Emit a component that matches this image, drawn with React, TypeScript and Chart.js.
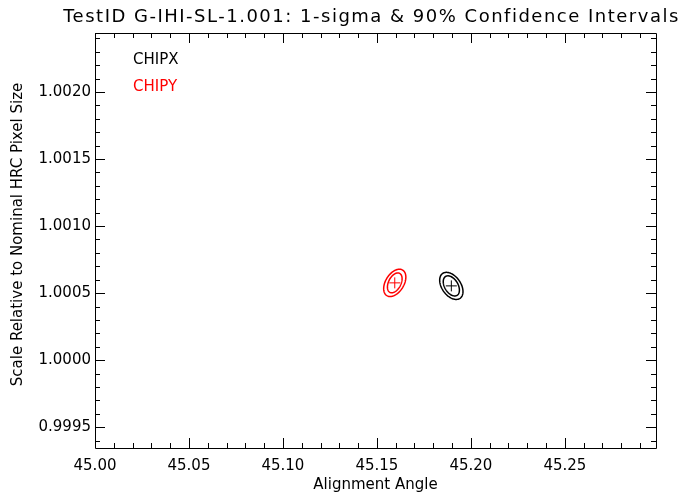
import React, { useEffect, useRef } from "react";
import { Chart, registerables } from "chart.js";

Chart.register(...registerables);

// ---- data ----
const seriesNames = ["CHIPX", "CHIPY"];
const seriesColors = ["#000000", "#ff0000"];
// best-fit centres
const centerX = [45.1896, 45.1595];
const centerY = [1.000554, 1.0005765];
// 90% confidence contour half-extents
const halfX90 = [0.0062, 0.0059];
const halfY90 = [0.000101, 0.000102];
// 1-sigma confidence contour half-extents
const halfX1s = [0.0043, 0.0039];
const halfY1s = [0.000075, 0.000074];
// correlation between angle and scale
const correlation = [-0.42, 0.42];

const xTicks = [45.0, 45.05, 45.1, 45.15, 45.2, 45.25];
const yTicks = [0.9995, 1.0, 1.0005, 1.001, 1.0015, 1.002];
const xRange = [45.0, 45.2985];
const yRange = [0.999345, 1.00244];
const xMinorStep = 0.01;
const yMinorStep = 0.0001;

const titleText = "TestID G-IHI-SL-1.001: 1-sigma & 90% Confidence Intervals";
const xTitle = "Alignment Angle";
const yTitle = "Scale Relative to Nominal HRC Pixel Size";

const FONT = "'DejaVu Sans', sans-serif";

const framePlugin = {
  id: "idlFrame",
  afterDatasetsDraw(chart: any) {
    const ctx = chart.ctx as CanvasRenderingContext2D;
    const xs = chart.scales.x;
    const ys = chart.scales.y;
    const { left, right, top, bottom } = chart.chartArea;

    ctx.save();
    ctx.beginPath();
    ctx.rect(left, top, right - left, bottom - top);
    ctx.clip();
    for (let s = 0; s < seriesNames.length; s++) {
      const levels = [
        [halfX90[s], halfY90[s]],
        [halfX1s[s], halfY1s[s]],
      ];
      const r = correlation[s];
      const q = Math.sqrt(1 - r * r);
      for (const [hx, hy] of levels) {
        ctx.beginPath();
        const N = 120;
        for (let i = 0; i <= N; i++) {
          const t = (i / N) * Math.PI * 2;
          const vx = centerX[s] + hx * Math.cos(t);
          const vy = centerY[s] + hy * (r * Math.cos(t) + q * Math.sin(t));
          const px = xs.getPixelForValue(vx);
          const py = ys.getPixelForValue(vy);
          if (i === 0) ctx.moveTo(px, py);
          else ctx.lineTo(px, py);
        }
        ctx.closePath();
        ctx.strokeStyle = seriesColors[s];
        ctx.lineWidth = 1.5;
        ctx.stroke();
      }
    }
    ctx.restore();
  },
  afterDraw(chart: any) {
    const ctx = chart.ctx as CanvasRenderingContext2D;
    const xs = chart.scales.x;
    const ys = chart.scales.y;
    const { left, right, top, bottom } = chart.chartArea;
    ctx.save();
    ctx.strokeStyle = "#000";
    ctx.lineWidth = 1;
    ctx.beginPath();
    ctx.rect(left + 0.5, top + 0.5, right - left, bottom - top);
    ctx.stroke();

    const major = 10;
    const minor = 5;
    ctx.beginPath();
    for (let i = Math.ceil(xRange[0] / xMinorStep - 1e-6); i <= Math.floor(xRange[1] / xMinorStep + 1e-6); i++) {
      const px = Math.round(xs.getPixelForValue(i * xMinorStep)) + 0.5;
      ctx.moveTo(px, bottom);
      ctx.lineTo(px, bottom - minor);
      ctx.moveTo(px, top);
      ctx.lineTo(px, top + minor);
    }
    for (const v of xTicks) {
      const px = Math.round(xs.getPixelForValue(v)) + 0.5;
      ctx.moveTo(px, bottom);
      ctx.lineTo(px, bottom - major);
      ctx.moveTo(px, top);
      ctx.lineTo(px, top + major);
    }
    for (let i = Math.ceil(yRange[0] / yMinorStep - 1e-6); i <= Math.floor(yRange[1] / yMinorStep + 1e-6); i++) {
      const py = Math.round(ys.getPixelForValue(i * yMinorStep)) + 0.5;
      ctx.moveTo(left, py);
      ctx.lineTo(left + minor, py);
      ctx.moveTo(right, py);
      ctx.lineTo(right - minor, py);
    }
    for (const v of yTicks) {
      const py = Math.round(ys.getPixelForValue(v)) + 0.5;
      ctx.moveTo(left, py);
      ctx.lineTo(left + major, py);
      ctx.moveTo(right, py);
      ctx.lineTo(right - major, py);
    }
    ctx.stroke();

    const cx = (left + right) / 2;
    ctx.fillStyle = "#000";
    ctx.textAlign = "center";
    ctx.textBaseline = "middle";
    (ctx as any).letterSpacing = "1.5px";
    ctx.font = `18px ${FONT}`;
    ctx.fillText(titleText, cx - 4, 17);
    (ctx as any).letterSpacing = "0px";
    ctx.font = `15px ${FONT}`;
    ctx.fillText(xTitle, cx, 485);
    ctx.save();
    ctx.translate(18, (top + bottom) / 2 - 6);
    ctx.rotate(-Math.PI / 2);
    ctx.fillText(yTitle, 0, 0);
    ctx.restore();

    ctx.textAlign = "left";
    ctx.font = `15px ${FONT}`;
    for (let s = 0; s < seriesNames.length; s++) {
      ctx.fillStyle = seriesColors[s];
      ctx.fillText(seriesNames[s], 133, 60 + s * 27);
    }
    ctx.restore();
  },
};

export default function App() {
  const ref = useRef<HTMLCanvasElement>(null);
  useEffect(() => {
    if (!ref.current) return;
    const chart = new Chart(ref.current, {
      type: "scatter",
      data: {
        datasets: seriesNames.map((name, s) => ({
          label: name,
          data: [{ x: centerX[s], y: centerY[s] }],
          pointStyle: "cross",
          pointRadius: 5.5,
          borderColor: seriesColors[s],
          backgroundColor: seriesColors[s],
          borderWidth: 1,
        })),
      },
      options: {
        animation: false,
        responsive: false,
        maintainAspectRatio: false,
        layout: { padding: { left: 0, top: 33, right: 36, bottom: 0 } },
        plugins: {
          legend: { display: false },
          title: { display: false },
          tooltip: { enabled: false },
        },
        scales: {
          x: {
            type: "linear",
            min: xRange[0],
            max: xRange[1],
            grid: { display: false, drawTicks: false },
            border: { display: false },
            afterBuildTicks: (scale: any) => {
              scale.ticks = xTicks.map((v) => ({ value: v }));
            },
            afterFit: (scale: any) => {
              scale.height = 56;
            },
            ticks: {
              padding: 9,
              color: "#000",
              font: { family: FONT, size: 15 },
              maxRotation: 0,
              autoSkip: false,
              callback: (v: any) => Number(v).toFixed(2),
            },
          },
          y: {
            type: "linear",
            min: yRange[0],
            max: yRange[1],
            grid: { display: false, drawTicks: false },
            border: { display: false },
            afterBuildTicks: (scale: any) => {
              scale.ticks = yTicks.map((v) => ({ value: v }));
            },
            afterFit: (scale: any) => {
              scale.width = 95;
            },
            ticks: {
              padding: 4,
              color: "#000",
              font: { family: FONT, size: 15 },
              autoSkip: false,
              callback: (v: any) => Number(v).toFixed(4),
            },
          },
        },
      },
      plugins: [framePlugin],
    });
    return () => chart.destroy();
  }, []);
  return (
    <div style={{ position: "absolute", left: 0, top: 0, width: 692, height: 504, background: "#fff" }}>
      <canvas ref={ref} width={692} height={504} style={{ width: 692, height: 504 }} />
    </div>
  );
}
